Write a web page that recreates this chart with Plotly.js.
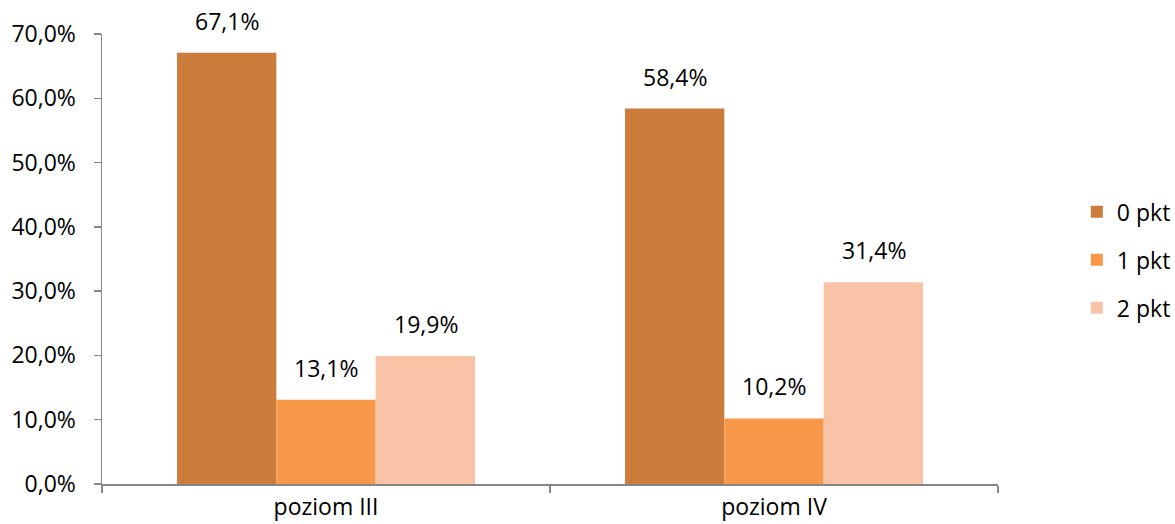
<!DOCTYPE html>
<html>
<head>
<meta charset="utf-8">
<script src="https://cdn.plot.ly/plotly-3.0.1.min.js"></script>
<style>html,body{margin:0;padding:0;background:#fff;}#chart{width:1175px;height:524px;}</style>
</head>
<body>
<div id="chart"></div>
<script>
var categories = ['poziom III', 'poziom IV'];
var seriesNames = ['0 pkt', '1 pkt', '2 pkt'];
var values0 = [0.671, 0.584];
var values1 = [0.131, 0.102];
var values2 = [0.199, 0.314];
var tickVals = [0, 0.1, 0.2, 0.3, 0.4, 0.5, 0.6, 0.7];

var colors = ['#CB7B3A', '#F79747', '#F9C3A8'];
var allValues = [values0, values1, values2];
var FONT = '"Open Sans", sans-serif';
var FS = 23;

var traces = allValues.map(function (vals, i) {
  return {
    type: 'bar',
    name: seriesNames[i],
    x: categories,
    y: vals,
    marker: {color: colors[i], line: {width: 0}},
    legendgroup: 'g' + i,
    hoverinfo: 'skip'
  };
});

var annotations = [];
allValues.forEach(function (vals, i) {
  vals.forEach(function (v, j) {
    annotations.push({
      x: categories[j], y: v, xref: 'x', yref: 'y',
      text: (v * 100).toFixed(1).replace('.', ',') + '%',
      showarrow: false, xanchor: 'center', yanchor: 'bottom',
      xshift: (i - 1) * 99.5, yshift: 14,
      font: {family: FONT, size: FS, color: '#000'}
    });
  });
});

var layout = {
  width: 1175, height: 524,
  margin: {l: 102, r: 177, t: 34, b: 40, autoexpand: false},
  paper_bgcolor: '#fff', plot_bgcolor: '#fff',
  separators: ',.',
  barmode: 'group', bargap: 0.335, bargroupgap: 0,
  font: {family: FONT, size: FS, color: '#000'},
  xaxis: {
    type: 'category', showgrid: false, zeroline: false,
    showline: true, linecolor: '#868686', linewidth: 1.5,
    ticks: 'outside', tickson: 'boundaries', ticklen: 7, tickcolor: '#868686', tickwidth: 1.5,
    ticklabelstandoff: 2,
    tickfont: {family: FONT, size: FS, color: '#000'}
  },
  yaxis: {
    range: [0, 0.7], tickvals: tickVals, tickformat: '.1%',
    showgrid: false, zeroline: false,
    showline: true, linecolor: '#868686', linewidth: 1.5,
    ticks: 'outside', ticklen: 7, tickcolor: '#868686', tickwidth: 1.5,
    ticklabelstandoff: 13,
    tickfont: {family: FONT, size: FS, color: '#000'}
  },
  showlegend: true,
  legend: {
    x: 1.088, xanchor: 'left', y: 0.498, yanchor: 'middle',
    tracegroupgap: 15, bgcolor: 'rgba(0,0,0,0)',
    font: {family: FONT, size: FS, color: '#000'}
  },
  annotations: annotations
};

Plotly.newPlot('chart', traces, layout, {displayModeBar: false, staticPlot: true});
</script>
</body>
</html>
